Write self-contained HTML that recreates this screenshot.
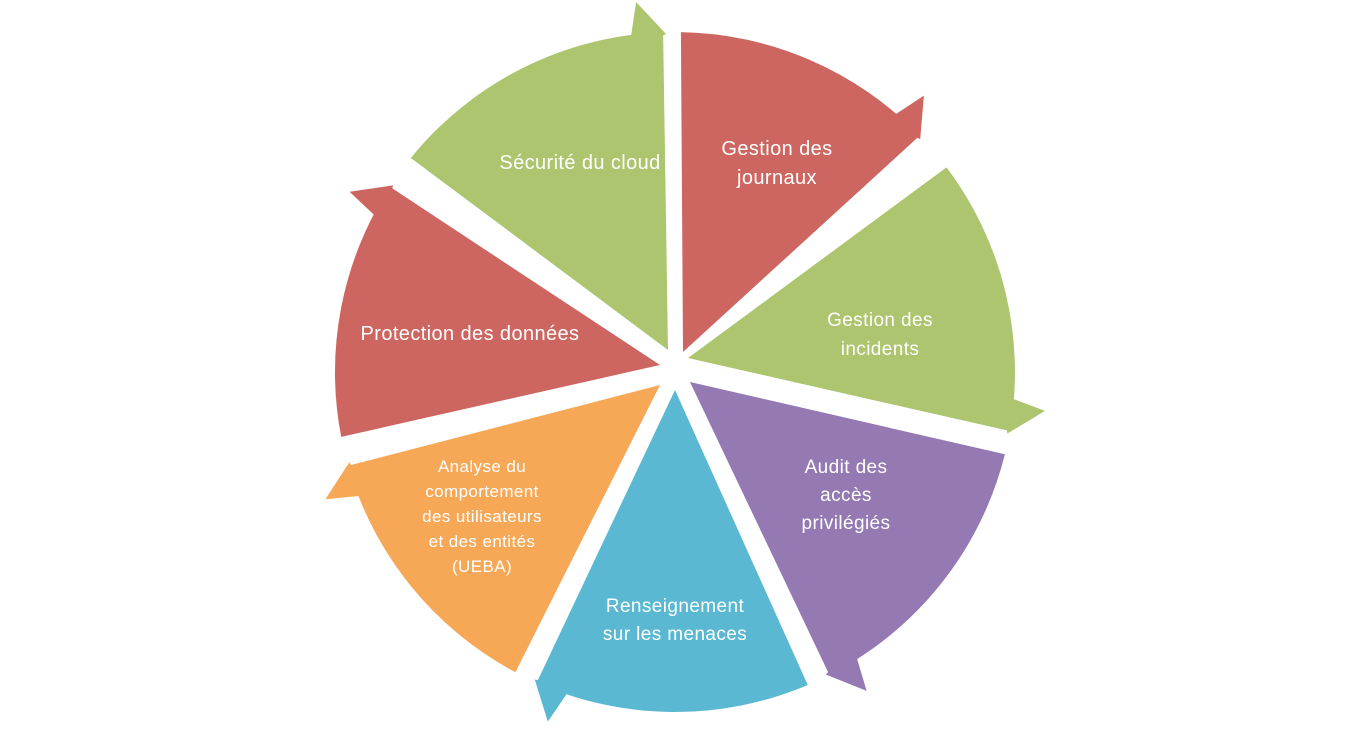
<!DOCTYPE html>
<html><head><meta charset="utf-8"><style>
html,body{margin:0;padding:0;background:#fff;width:1350px;height:743px;overflow:hidden}
svg{display:block}
text{font-family:"Liberation Sans",sans-serif;fill:#fff;text-anchor:middle;letter-spacing:0.4px}
</style></head><body>
<svg id="s" width="1350" height="743" viewBox="0 0 1350 743">
<g id="w"></g>
<text font-size="20"><tspan x="777" y="155">Gestion des</tspan><tspan x="777" y="184">journaux</tspan></text>
<text font-size="19"><tspan x="880" y="326">Gestion des</tspan><tspan x="880" y="355">incidents</tspan></text>
<text font-size="19"><tspan x="846" y="473">Audit des</tspan><tspan x="846" y="501">accès</tspan><tspan x="846" y="529">privilégiés</tspan></text>
<text font-size="19"><tspan x="675" y="612">Renseignement</tspan><tspan x="675" y="640">sur les menaces</tspan></text>
<text font-size="17"><tspan x="482" y="472">Analyse du</tspan><tspan x="482" y="497">comportement</tspan><tspan x="482" y="522">des utilisateurs</tspan><tspan x="482" y="547">et des entités</tspan><tspan x="482" y="572">(UEBA)</tspan></text>
<text font-size="20" x="470" y="340">Protection des données</text>
<text font-size="20" x="580" y="169">Sécurité du cloud</text>
</svg>
<script>
var cx=675,cy=372,r=340,C=[["#CD6660",1,46,683,352],["#ACC56E",53,100,688,358],["#9479B2",104,153,690,382],["#5AB8D2",157,204,675,390],["#F7A857",208,254,660,385],["#CD6660",259,303,660,365],["#ACC56E",309,358,668,350]];
function p(a,R,x,y){a=(a-90)*Math.PI/180;return [(x+R*Math.cos(a)).toFixed(1),(y+R*Math.sin(a)).toFixed(1)];}
var g=document.getElementById("w"),h="";
C.forEach(function(c){var x=cx,y=cy,s=p(c[1],r,x,y),e=p(c[2],r,x,y);
h+='<path fill="'+c[0]+'" d="M'+c[3]+','+c[4]+' L'+s[0]+','+s[1]+' A'+r+','+r+' 0 0 1 '+e[0]+','+e[1]+' Z"/>';
var a=p(c[2]-4,r+32,x,y),b=p(c[2]+0.5,r-2,x,y),d=p(c[2]-6,r-12,x,y);
h+='<polygon fill="'+c[0]+'" points="'+a.join(',')+' '+b.join(',')+' '+d.join(',')+'"/>';});
g.innerHTML=h;
</script>
</body></html>
